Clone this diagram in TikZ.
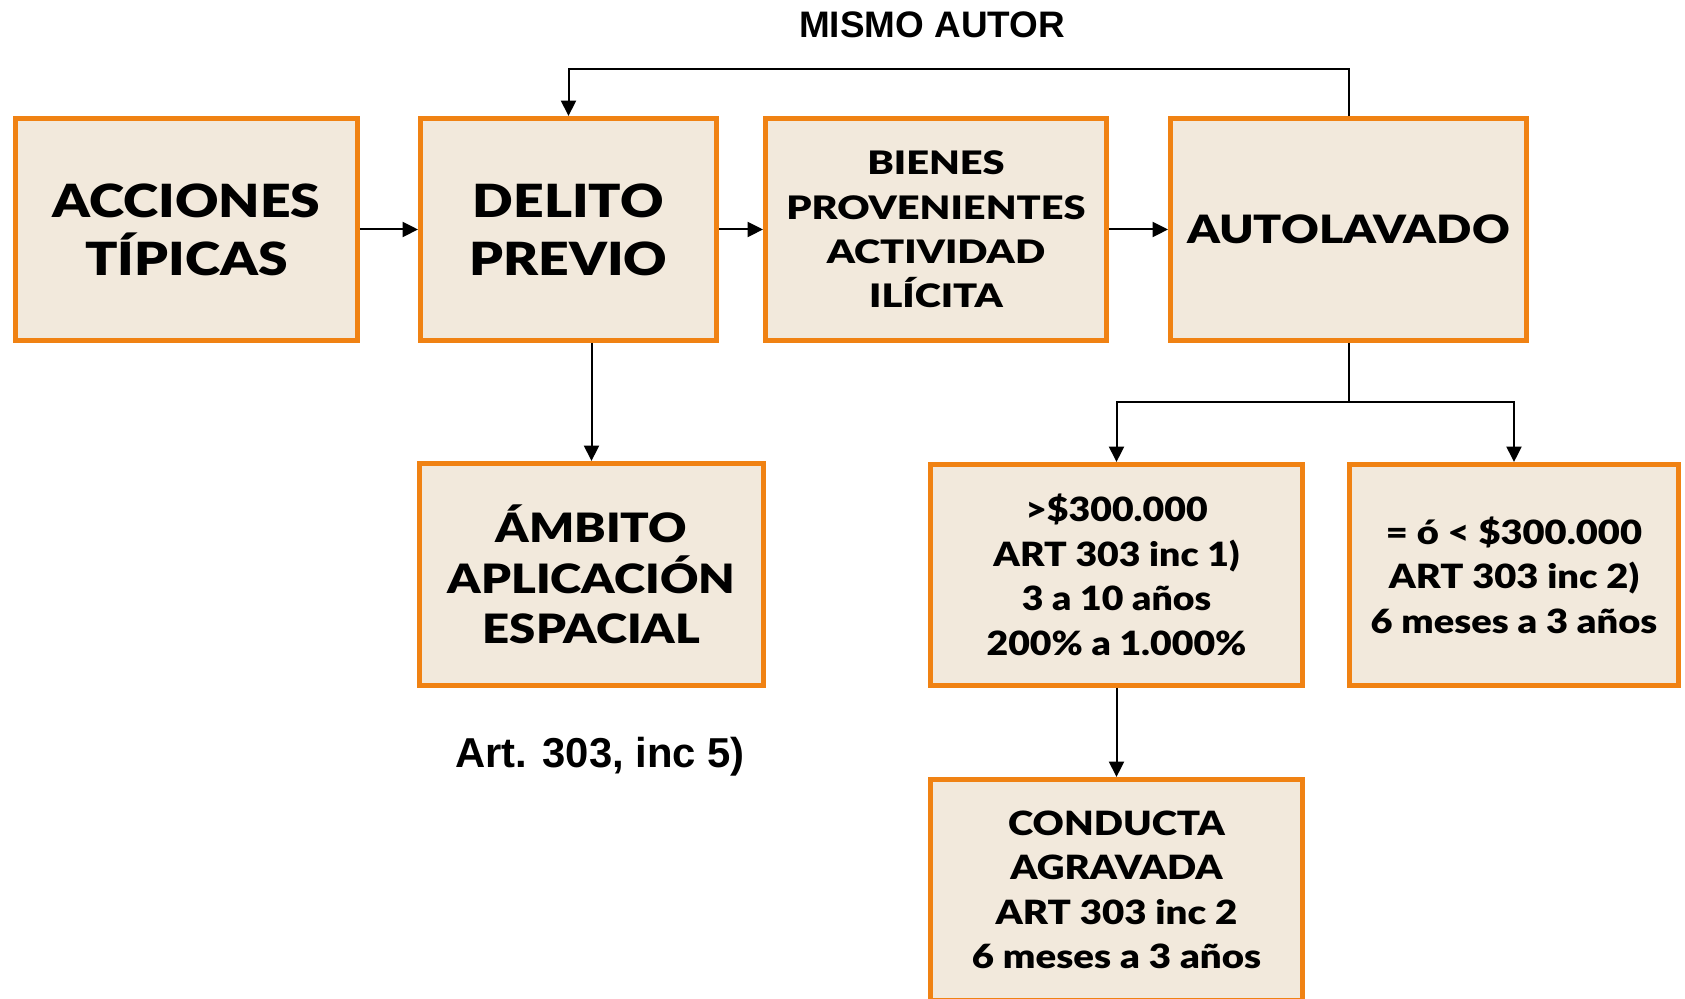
\documentclass[tikz,border=0pt]{standalone}
\usepackage{fontspec}
\setmainfont{Lato}
\newfontfamily\cajafont{Lato Black}
\newfontfamily\arialfont{Liberation Sans}
\usepackage{tikz}
\usetikzlibrary{arrows.meta}

\definecolor{naranja}{RGB}{240,130,19}
\definecolor{beige}{RGB}{242,233,220}

% box font: stretch, size, line skip
\newcommand{\letra}[3]{\cajafont\addfontfeature{FakeStretch=#1}\fontsize{#2}{#3}\selectfont}

\tikzset{
    caja/.style={draw=naranja, fill=beige, line width=0.09cm, minimum height=4.45cm, align=center, inner sep=0pt},
    flecha/.style={-{Triangle[length=0.31cm,width=0.3cm]}, line width=0.04cm},
    linea/.style={line width=0.04cm},
}

\begin{document}
\begin{tikzpicture}[x=0.02cm, y=-0.02cm]

    % Page frame
    \clip (0,0) rectangle (1685,999);

    % Top row of boxes
    \node[caja, minimum width=6.85cm, font=\letra{1.17}{26}{33}] (acciones) at (186.5,229.5) {ACCIONES\\TÍPICAS};
    \node[caja, minimum width=5.93cm, font=\letra{1.17}{26}{33}] (delito) at (568.5,229.5) {DELITO\\PREVIO};
    \node[caja, minimum width=6.83cm, font=\letra{1.23}{18.4}{25.3}] (bienes) at (936,229.5) {BIENES\\PROVENIENTES\\ACTIVIDAD\\ILÍCITA};
    \node[caja, minimum width=7.13cm, font=\letra{1.19}{22.2}{28}] (autolavado) at (1348.5,229.5) {AUTOLAVADO};

    % Lower boxes
    \node[caja, minimum width=6.89cm, font=\letra{1.17}{23}{28.9}] (ambito) at (591.5,574.5) {ÁMBITO\\APLICACIÓN\\ESPACIAL};
    \node[caja, minimum width=7.45cm, minimum height=4.43cm, font=\letra{1.12}{19}{25.3}] (mayor) at (1116.5,575) {>\$300.000\\ART 303 inc 1)\\3 a 10 años\\200\% a 1.000\%};
    \node[caja, minimum width=6.59cm, minimum height=4.43cm, font=\letra{1.14}{19}{25.3}] (menor) at (1514,575) {= ó < \$300.000\\ART 303 inc 2)\\6 meses a 3 años};
    \node[caja, minimum width=7.45cm, minimum height=4.43cm, font=\letra{1.15}{19}{25.3}] (conducta) at (1116.5,890) {CONDUCTA\\AGRAVADA\\ART 303 inc 2\\6 meses a 3 años};

    % Free labels
    \node[anchor=base, font=\arialfont\bfseries\fontsize{21}{25}\selectfont] (mismo) at (932,38) {MISMO AUTOR};
    \node[anchor=base, font=\arialfont\bfseries\fontsize{23.8}{28}\selectfont] (art) at (600,768) {Art. 303, inc 5)};

    % Arrows along the top row
    \draw[flecha] (acciones) -- (delito);
    \draw[flecha] (delito) -- (bienes);
    \draw[flecha] (bienes) -- (autolavado);

    % Same author loop
    \coordinate (arriba) at (950,69);
    \draw[flecha] (autolavado.north) |- (arriba) -| (delito.north);

    % Arrows going down
    \draw[flecha] (delito.south -| ambito.north) -- (ambito.north);
    \coordinate (rama) at (1348.5,402);
    \draw[linea] (autolavado.south) -- (rama);
    \draw[flecha] (rama) -| (mayor.north);
    \draw[flecha] (rama) -| (menor.north);
    \draw[flecha] (mayor) -- (conducta);

\end{tikzpicture}
\end{document}
